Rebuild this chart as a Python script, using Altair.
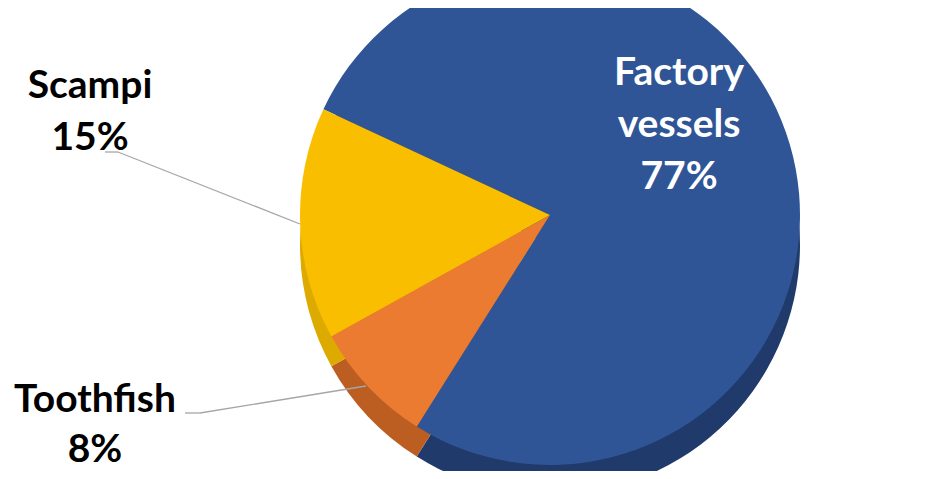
import math
import altair as alt
import pandas as pd

categories = ["Factory vessels", "Toothfish", "Scampi"]
shares = [77, 8, 15]
label_names = ["Factory\nvessels", "Toothfish", "Scampi"]
top_colors = ["#2F5597", "#EB7B31", "#F9BE00"]
side_colors = ["#1F3A6B", "#BC5E22", "#DDAA00"]

df = pd.DataFrame({
    "category": categories,
    "share": shares,
    "order": list(range(len(categories))),
    "label": [f"{n}\n{s}%" for n, s in zip(label_names, shares)],
})

start = math.radians(-65)
theta_scale = alt.Scale(range=[start, start + 2 * math.pi])

CX, CY, R, T = 542, 207, 250, 30

base = alt.Chart(df).encode(
    theta=alt.Theta("share:Q", stack=True, scale=theta_scale),
    order=alt.Order("order:Q"),
)

side = base.mark_arc(radius=R, stroke=None).encode(
    color=alt.Color("category:N", scale=alt.Scale(domain=categories, range=side_colors), legend=None),
    x=alt.value(CX), y=alt.value(CY + T),
)
top = base.mark_arc(radius=R, stroke=None).encode(
    color=alt.Color("category:N", scale=alt.Scale(domain=categories, range=top_colors), legend=None),
    x=alt.value(CX), y=alt.value(CY),
)

FONT = "Lato"

def label(cat, x, y, color, lh=52):
    return alt.Chart(df).transform_filter(alt.datum.category == cat).mark_text(
        font=FONT, fontWeight="bold", fontSize=39, lineBreak="\n", lineHeight=lh,
        align="center", baseline="alphabetic", color=color,
    ).encode(text="label:N", x=alt.value(x), y=alt.value(y))

def seg(cat, x1, y1, x2, y2):
    return alt.Chart(df).transform_filter(alt.datum.category == cat).mark_rule(
        color="#A6A6A6", strokeWidth=1.3
    ).encode(x=alt.value(x1), y=alt.value(y1), x2=alt.value(x2), y2=alt.value(y2))

layers = [
    side, top,
    label("Factory vessels", 671, 77, "white"),
    label("Scampi", 82, 90, "black"),
    label("Toothfish", 87, 404, "black", lh=50),
    seg("Scampi", 97, 144, 110, 144),
    seg("Scampi", 110, 144, 292, 216),
    seg("Toothfish", 177, 405, 192, 405),
    seg("Toothfish", 192, 405, 358, 378),
]

chart = alt.layer(*layers).resolve_scale(color="independent").properties(
    width=934, height=463, padding=0, autosize=alt.AutoSizeParams(type="none")
).configure_view(stroke=None)

chart.save("out.html", embed_options={"renderer": "svg", "actions": False})
